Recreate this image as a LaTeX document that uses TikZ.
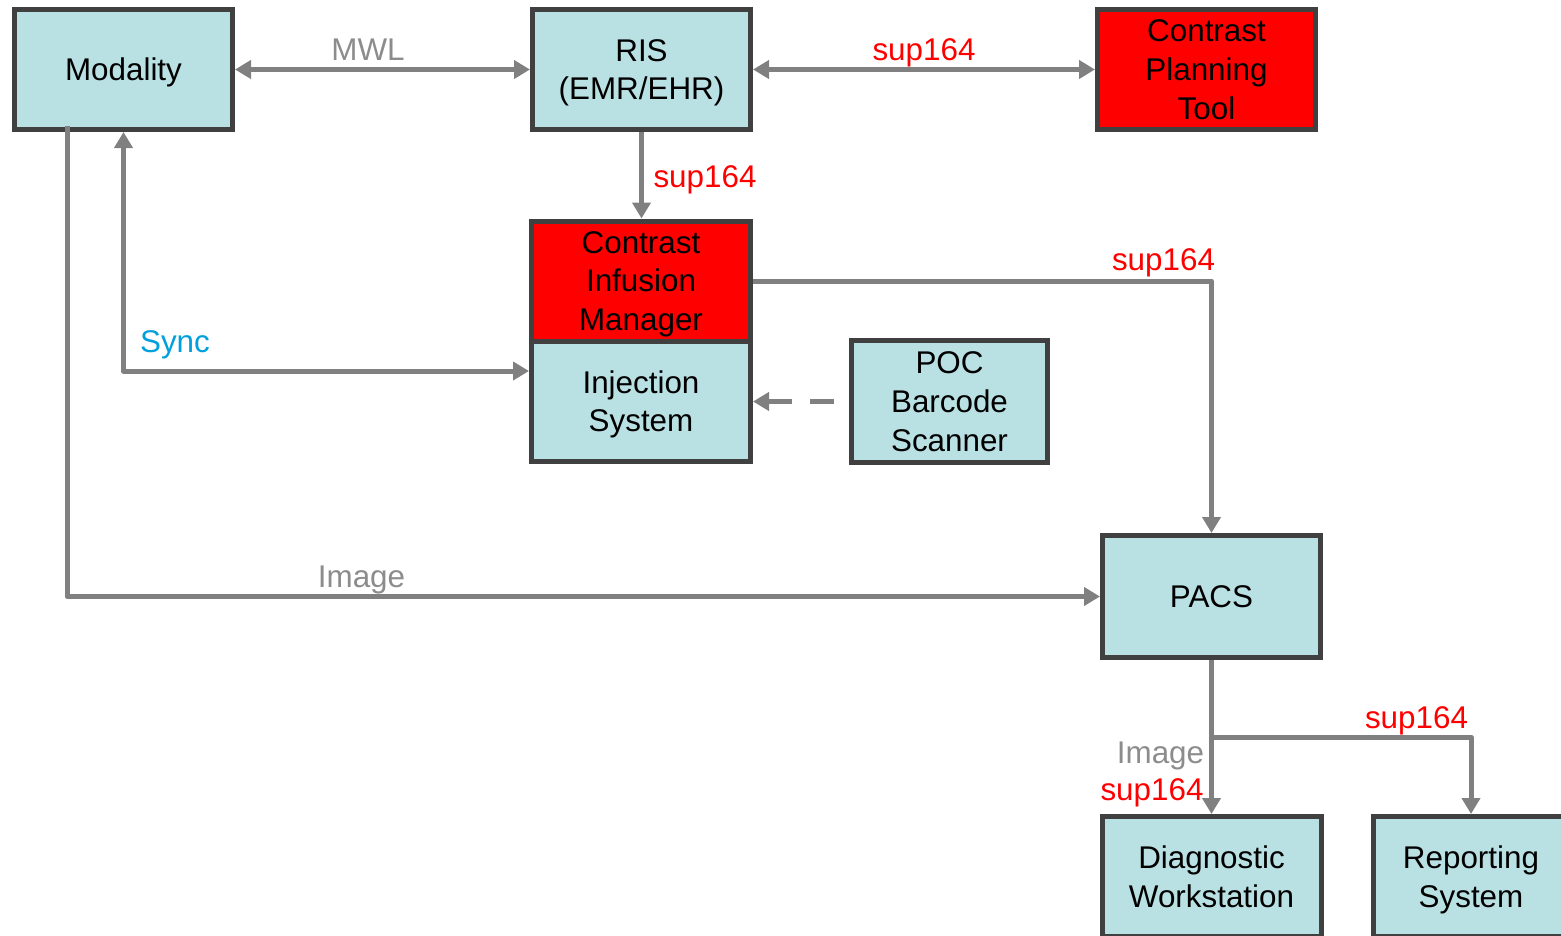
\documentclass[tikz,border=0pt]{standalone}
\usepackage{fontspec}
\setmainfont{Liberation Sans}
\usetikzlibrary{arrows.meta,calc}
\definecolor{boxfill}{HTML}{B9E0E3}
\definecolor{boxline}{HTML}{404040}
\definecolor{arrgray}{HTML}{808080}
\definecolor{lblgray}{HTML}{8C8C8C}
\definecolor{syncblue}{HTML}{00A0DC}
\newcommand\boxtextfont{\fontsize{31.5}{38.8}\selectfont}
\begin{document}
\begin{tikzpicture}[x=1bp,y=-1bp,
  box/.style={draw=boxline, line width=5bp, fill=boxfill, inner sep=0pt, align=center,
              font=\boxtextfont, minimum width=218bp, minimum height=120bp, text depth=0pt},
  redbox/.style={box, fill=red},
  conn/.style={draw=arrgray, line width=5bp, line join=round},
  >={Triangle[length=16bp,width=18bp]},
  lbl/.style={font=\boxtextfont, inner sep=0pt, anchor=base}]
\useasboundingbox (0,0) rectangle (1561,935);
% nodes
\node[box] (mod) at (123.5,69.5) {Modality};
\node[box] (ris) at (641.5,69.5) {RIS\\(EMR/EHR)};
\node[redbox] (cpt) at (1206.5,69.5) {Contrast\\Planning\\Tool};
\node[redbox, minimum width=219bp] (cim) at (641,281) {Contrast\\Infusion\\Manager};
\node[box, minimum width=219bp] (inj) at (641,401) {Injection\\System};
\node[box, minimum width=196bp, minimum height=122bp] (poc) at (949.5,401.5) {POC\\Barcode\\Scanner};
\node[box, minimum height=122bp] (pacs) at (1211.5,596.5) {PACS};
\node[box, minimum width=219bp] (diag) at (1211.5,876.5) {Diagnostic\\Workstation};
\node[box, minimum width=195bp] (rep) at (1471,876.5) {Reporting\\System};
% connectors
\draw[conn,<->] (mod.east) -- (ris.west);
\draw[conn,<->] (ris.east) -- (cpt.west);
\draw[conn,->] (ris.south) -- (ris.south |- cim.north);
\draw[conn,->] (cim.east) -- (cim.east -| pacs.north) -- (pacs.north);
\coordinate (sync) at ([yshift=30bp]inj.west);
\draw[conn,<->] (mod.south) -- (mod.south |- sync) -- (sync);
\draw[conn,<-,dash pattern=on 24bp off 18bp] (poc.west -| inj.east) -- (poc.west);
\coordinate (imgstart) at ([xshift=-56.5bp,yshift=6bp]mod.south);
\draw[conn,->] (imgstart) -- (imgstart |- pacs.west) -- (pacs.west);
\draw[conn,->] (pacs.south) -- (diag.north);
\coordinate (br) at (1211.5,737);
\draw[conn,->] (br) -- (br -| rep.north) -- (rep.north);
% labels
\node[lbl, text=lblgray] (lmwl) at (368,60) {MWL};
\node[lbl, text=red] (lsup1) at (924,60) {sup164};
\node[lbl, text=red] (lsup2) at (705,187.5) {sup164};
\node[lbl, text=red] (lsup3) at (1163.5,270) {sup164};
\node[lbl, text=syncblue] (lsync) at (175,352) {Sync};
\node[lbl, text=lblgray] (limg1) at (361.5,587) {Image};
\node[lbl, text=lblgray] (limg2) at (1160.5,763) {Image};
\node[lbl, text=red] (lsup4) at (1152,800) {sup164};
\node[lbl, text=red] (lsup5) at (1416.5,728) {sup164};
\end{tikzpicture}
\end{document}
